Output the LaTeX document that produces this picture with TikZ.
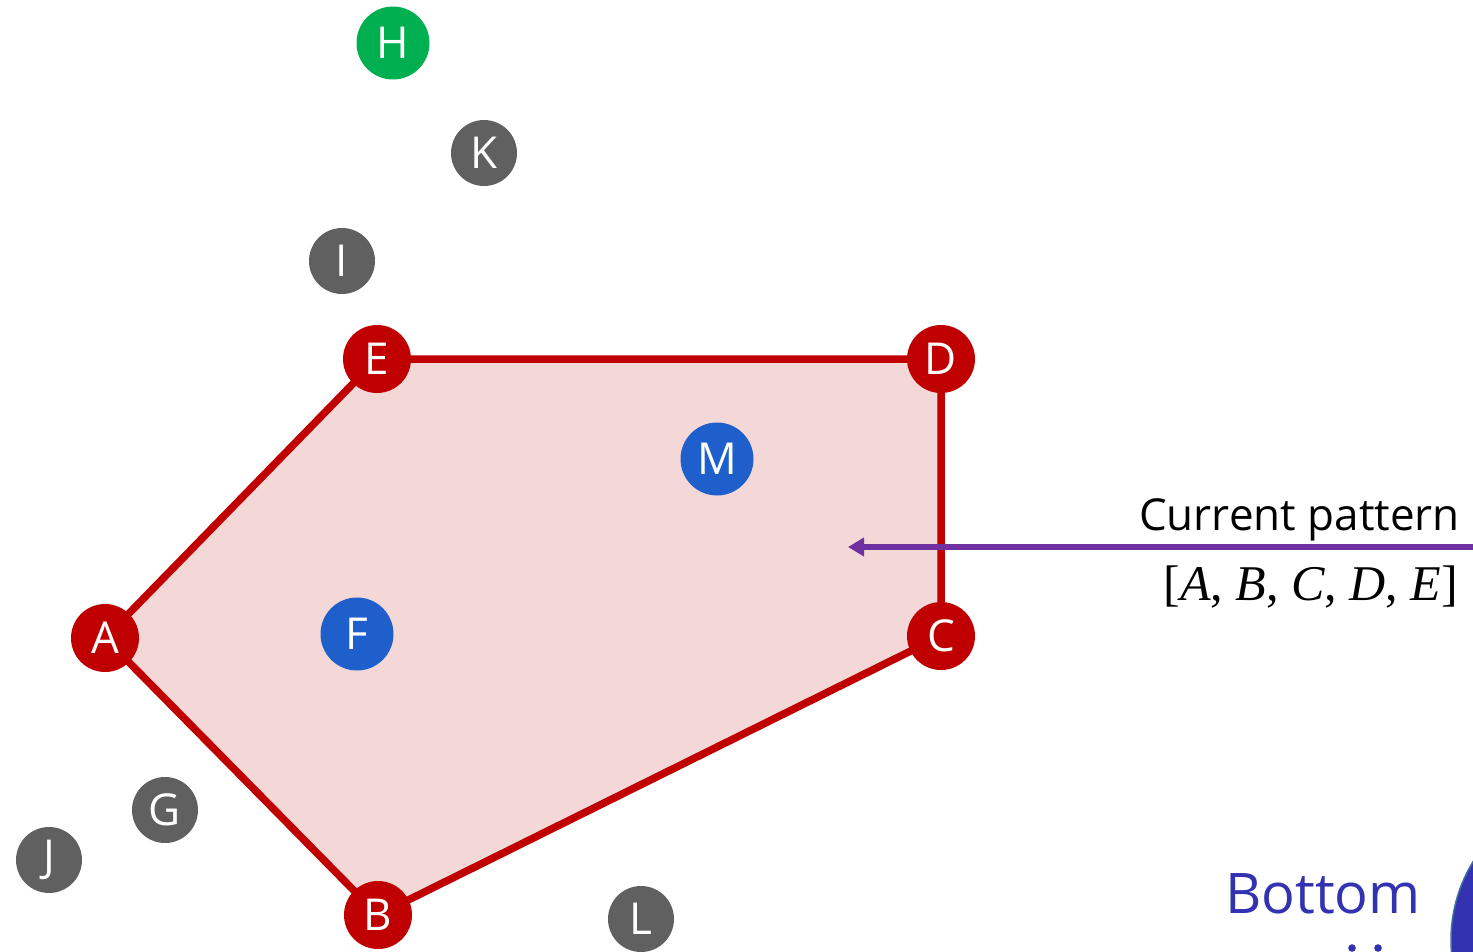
\documentclass[tikz,border=0pt]{standalone}
\usepackage{fontspec}
\setmainfont{Open Sans}
\newfontfamily\patfont{Liberation Serif}
\usetikzlibrary{arrows.meta,backgrounds}
\definecolor{hullred}{HTML}{C00000}
\definecolor{hullfill}{HTML}{F4D8D8}
\definecolor{ptgray}{HTML}{606060}
\definecolor{ptblue}{HTML}{1F5FCC}
\definecolor{ptgreen}{HTML}{00B050}
\definecolor{arrowpurple}{HTML}{7030A0}
\definecolor{botblue}{HTML}{3333B2}
\definecolor{botedge}{HTML}{41719C}
\tikzset{
  pt/.style={circle, inner sep=0pt, text=white, font=\fontsize{44}{44}\selectfont},
  hullpt/.style={pt, fill=hullred, minimum size=68pt},
  graypt/.style={pt, fill=ptgray, minimum size=66pt},
  bluept/.style={pt, fill=ptblue, minimum size=73pt},
  greenpt/.style={pt, fill=ptgreen, minimum size=73pt},
  hulledge/.style={draw=hullred, line width=7.5pt, fill=hullfill, line join=round},
  patarrow/.style={draw=arrowpurple, line width=5.5pt, -{Triangle[length=16pt,width=18pt]}},
}
\begin{document}
\begin{tikzpicture}[x=1pt,y=-1pt]
\useasboundingbox (0,0) rectangle (1473,951);
\clip (0,0) rectangle (1473,951);
% points
\node[greenpt] (H) at (393,43) {H};
\node[graypt] (K) at (484,153) {K};
\node[graypt] (I) at (342,261) {I};
\node[hullpt] (E) at (377,359) {E};
\node[hullpt] (D) at (941,359) {D};
\node[bluept] (M) at (717,459) {M};
\node[hullpt] (A) at (105,638) {A};
\node[bluept] (F) at (357,634) {F};
\node[hullpt] (C) at (941,636) {C};
\node[graypt] (G) at (165,810) {G};
\node[graypt] (J) at (49,860) {J};
\node[hullpt] (B) at (378,915) {B};
\node[graypt] (L) at (641,919) {L};
\begin{scope}[on background layer]
  \path[hulledge] (A.center) -- (B.center) -- (C.center) -- (D.center) -- (E.center) -- cycle;
\end{scope}
% arrow and labels
\coordinate (arrstart) at (1475,547);
\coordinate (arrend) at (848,547);
\draw[patarrow] (arrstart) -- (arrend);
\node[anchor=base east, inner sep=0pt, font=\fontsize{44}{44}\selectfont] (cur) at (1460,530) {Current pattern};
\node[anchor=base east, inner sep=0pt, font=\patfont\fontsize{50}{50}\selectfont] (pat) at (1458,600) {[\textit{A}, \textit{B}, \textit{C}, \textit{D}, \textit{E}]};
% bottom label (cut off)
\node[anchor=base, inner sep=0pt, text=botblue, font=\fontsize{56}{56}\selectfont] (bot) at (1323,913) {Bottom};
\fill[botblue] (1352,948) circle (3.8);
\fill[botblue] (1378,948) circle (3.8);
\draw[fill=botblue, draw=botedge, line width=1.5pt] (1601,940) circle (150);
\end{tikzpicture}
\end{document}
